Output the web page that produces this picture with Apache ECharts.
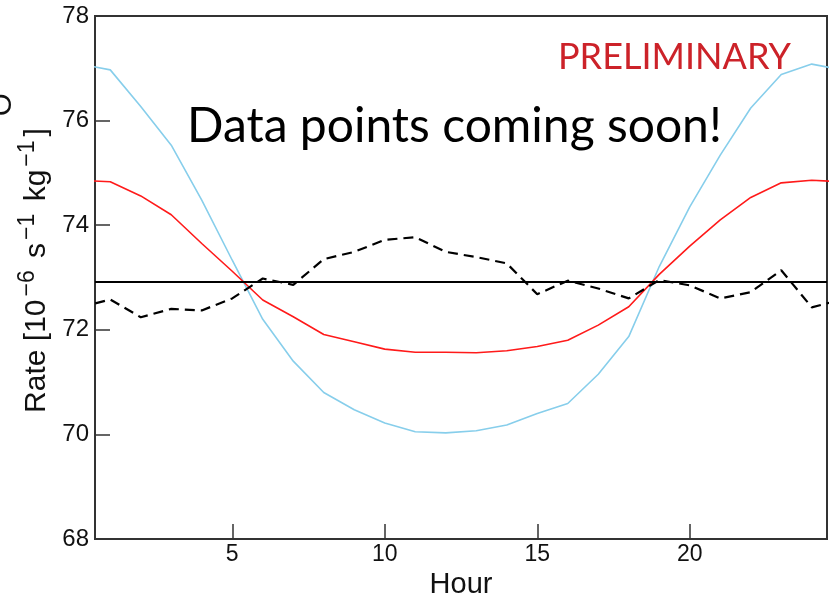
<!DOCTYPE html>
<html>
<head>
<meta charset="utf-8">
<script src="https://cdn.jsdelivr.net/npm/echarts@6/dist/echarts.min.js"></script>
<style>html,body{margin:0;padding:0;background:#fff;}#c{width:831px;height:598px;}</style>
</head>
<body>
<div id="c"></div>
<script>
// Hours of the day (data points), periodic over 24 h
var hours = [1,2,3,4,5,6,7,8,9,10,11,12,13,14,15,16,17,18,19,20,21,22,23,24];
var blueRate = [76.97,76.27,75.53,74.48,73.33,72.20,71.40,70.80,70.47,70.22,70.05,70.03,
                70.07,70.18,70.40,70.59,71.15,71.87,73.21,74.35,75.34,76.24,76.88,77.08];
var redRate  = [74.83,74.56,74.20,73.65,73.12,72.57,72.25,71.91,71.77,71.63,71.57,71.57,
                71.56,71.60,71.68,71.80,72.09,72.44,73.06,73.60,74.10,74.53,74.81,74.86];
var dashRate = [72.58,72.24,72.40,72.37,72.60,72.98,72.86,73.35,73.49,73.72,73.77,73.49,
                73.39,73.27,72.68,72.94,72.79,72.60,72.95,72.85,72.60,72.72,73.14,72.43];
var meanRate = 72.92;
var xTicks = [5,10,15,20];
var yTicks = [68,70,72,74,76,78];

// wrap periodically: hour 0 == hour 24, hour 25 == hour 1
function periodic(vals){
  var d = [[0, vals[vals.length-1]]];
  for (var i=0;i<hours.length;i++) d.push([hours[i], vals[i]]);
  d.push([25, vals[0]]);
  return d;
}

var chart = echarts.init(document.getElementById('c'), null, {renderer:'canvas'});
var axisCol = '#333';
chart.setOption({
  animation:false,
  backgroundColor:'#fff',
  grid:{left:95, right:4, top:16, bottom:59, show:true, borderColor:axisCol, borderWidth:2,
        backgroundColor:'transparent', containLabel:false, outerBoundsMode:'none'},
  xAxis:{
    type:'value', min:0.5, max:24.5,
    name:'Hour', nameLocation:'middle', nameGap:30,
    nameTextStyle:{fontFamily:'Liberation Sans', fontSize:29, color:'#111'},
    axisLine:{show:true, lineStyle:{color:axisCol, width:2}},
    axisTick:{show:true, inside:true, length:15, customValues:xTicks, lineStyle:{color:axisCol, width:1.5}},
    axisLabel:{customValues:xTicks, fontFamily:'Liberation Sans', fontSize:23, color:'#111', margin:4},
    splitLine:{show:false}
  },
  yAxis:{
    type:'value', min:68, max:78, interval:2,
    name:'{r|Rate [10}{s|−6}{m| s}{s|−1}{m| kg}{s|−1}{m|]}',
    nameLocation:'middle', nameRotate:90, nameGap:36,
    nameTextStyle:{
      color:'#111',
      rich:{
        r:{fontFamily:'Liberation Sans', fontSize:30, lineHeight:40, color:'#111', padding:[0,0,0,14]},
        m:{fontFamily:'Liberation Sans', fontSize:30, lineHeight:40, color:'#111'},
        s:{fontFamily:'Liberation Sans', fontSize:23, lineHeight:21, verticalAlign:'top', color:'#111', padding:[0,4,0,3]}
      }
    },
    axisLine:{show:true, lineStyle:{color:axisCol, width:2}},
    axisTick:{show:true, inside:true, length:15, lineStyle:{color:axisCol, width:1.5}},
    axisLabel:{fontFamily:'Liberation Sans', fontSize:24, color:'#111', margin:6,
      formatter:function(v){ return yTicks.indexOf(v)>=0 ? String(v) : ''; }},
    splitLine:{show:false}
  },
  series:[
    {type:'line', data:periodic(blueRate), showSymbol:false, symbol:'none',
     lineStyle:{color:'#87ceeb', width:1.6}, z:2},
    {type:'line', data:periodic(redRate), showSymbol:false, symbol:'none',
     lineStyle:{color:'#ff1a1a', width:1.6}, z:3},
    {type:'line', data:periodic(dashRate), showSymbol:false, symbol:'none',
     lineStyle:{color:'#000', width:2.2, type:[10,6]}, z:4,
     markLine:{silent:true, symbol:'none', label:{show:false},
       lineStyle:{color:'#000', width:2, type:'solid'},
       data:[{yAxis:meanRate}]}}
  ],
  graphic:[
    {type:'text', left:187, top:103, z:10,
     style:{text:'Data points coming soon!', font:'normal 48px Lato', fill:'#000'}},
    {type:'text', left:558, top:39, z:10,
     style:{text:'PRELIMINARY', font:'normal 36px Lato', fill:'#cc2229'}},
    {type:'text', x:-12, y:116, rotation:Math.PI/2, z:10,
     style:{text:'O', font:'normal 29px Liberation Sans', fill:'#111', textBaseline:'alphabetic'}}
  ]
});
</script>
</body>
</html>
